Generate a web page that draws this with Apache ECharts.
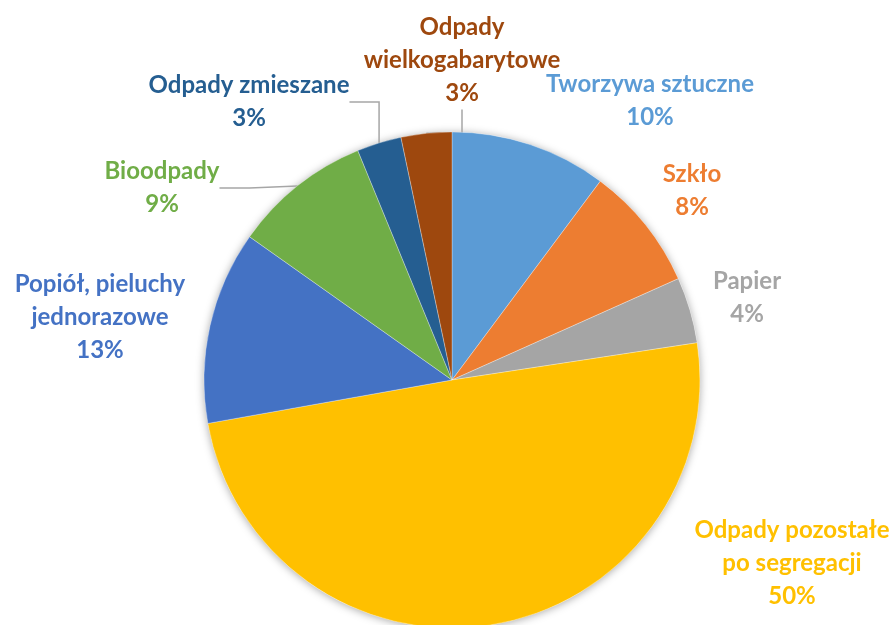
<!DOCTYPE html>
<html>
<head>
<meta charset="utf-8">
<script src="https://cdn.jsdelivr.net/npm/echarts@6/dist/echarts.min.js"></script>
<style>
  html, body { margin: 0; padding: 0; background: #fff; }
  #chart { width: 896px; height: 625px; }
</style>
</head>
<body>
<div id="chart"></div>
<script>
// kategorie odpadów (od góry, zgodnie z ruchem wskazówek zegara)
const categories = [
  "Tworzywa sztuczne",
  "Szkło",
  "Papier",
  "Odpady pozostałe\npo segregacji",
  "Popiół, pieluchy\njednorazowe",
  "Bioodpady",
  "Odpady zmieszane",
  "Odpady\nwielkogabarytowe"
];
// udział w %
const shares = [10.2, 8.1, 4.3, 49.6, 12.6, 9.0, 2.9, 3.3];
const colors = ["#5B9BD5", "#ED7D31", "#A5A5A5", "#FFC000", "#4472C4", "#70AD47", "#255E91", "#9E480E"];
// które etykiety mają linię odniesienia
const withLine = [false, false, false, false, false, true, true, true];

// środki bloków etykiet (px)
const labelPos = [
  [650, 101], [692, 191], [747, 298], [792, 563],
  [100, 317], [162, 188], [249, 102], [462, 60]
];

const chart = echarts.init(document.getElementById("chart"), null, { renderer: "canvas" });

const center = [452, 380];
const radius = 248;

chart.setOption({
  animation: false,
  series: [
    {
      // cień pod kołem
      type: "pie",
      silent: true,
      center: center,
      radius: radius,
      label: { show: false },
      labelLine: { show: false },
      itemStyle: {
        color: "#fff",
        shadowBlur: 8,
        shadowColor: "rgba(0,0,0,0.35)",
        shadowOffsetY: 1
      },
      data: [{ value: 1 }],
      z: 1
    },
    {
      type: "pie",
      center: center,
      radius: radius,
      startAngle: 90,
      clockwise: true,
      percentPrecision: 2,
      z: 2,
      itemStyle: { borderColor: "rgba(255,255,255,0.6)", borderWidth: 0.5 },
      label: {
        show: true,
        position: "outside",
        fontFamily: "Lato",
        fontWeight: "bold",
        fontSize: 24,
        lineHeight: 33,
        align: "center",
        overflow: "none",
        formatter: (p) => p.name + "\n" + Math.round(p.percent) + "%"
      },
      labelLine: {
        show: true,
        lineStyle: { color: "#a6a6a6", width: 1.5 }
      },
      labelLayout: (params) => {
        const pos = labelPos[params.dataIndex];
        return { x: pos[0], y: pos[1], align: "center", verticalAlign: "middle" };
      },
      data: categories.map((name, i) => ({
        name: name,
        value: shares[i],
        itemStyle: { color: colors[i] },
        label: { color: colors[i] },
        labelLine: { show: withLine[i] }
      }))
    }
  ]
});
</script>
</body>
</html>
